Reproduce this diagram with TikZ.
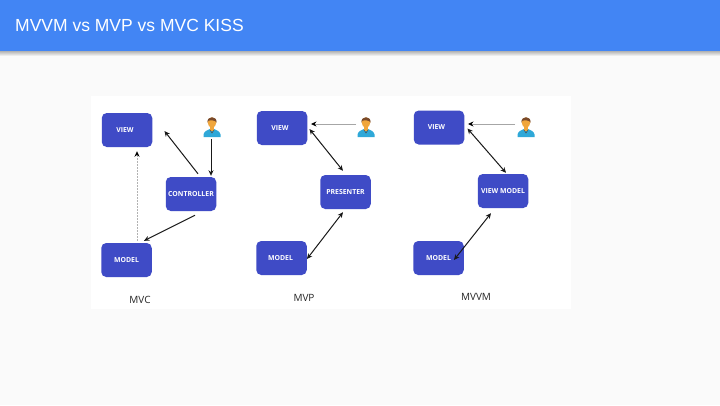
\documentclass[tikz,border=0pt]{standalone}
\usepackage{fontspec}
\setmainfont{Liberation Sans}
\newfontfamily\labelfont{Open Sans}
\definecolor{hdr}{HTML}{4285F4}
\definecolor{page}{HTML}{FAFAFA}
\definecolor{boxc}{HTML}{3F4BC6}
\definecolor{skin}{HTML}{F0A63C}
\definecolor{hair}{HTML}{7A4A2A}
\definecolor{shirt}{HTML}{2FA8D8}
\usetikzlibrary{arrows.meta}
\tikzset{
  comp/.style={fill=boxc,draw=none,rounded corners=5pt,minimum width=50.5pt,minimum height=34pt,inner sep=0pt,
    text=white,font=\labelfont\fontsize{6.9}{7}\selectfont\bfseries},
  captext/.style={font=\labelfont\fontsize{10}{11}\selectfont,text=black!85,inner sep=0pt},
  link/.style={black!90,line width=1pt},
  one/.style={link,-{Stealth[length=5.5pt,width=5pt]}},
  both/.style={link,{Stealth[length=5.5pt,width=5pt]}-{Stealth[length=5.5pt,width=5pt]}},
  grayarrow/.style={black!35,line width=1pt,-{Stealth[length=5.5pt,width=5pt,black]}},
  dasharrow/.style={black!30,line width=1pt,dash pattern=on 2pt off 1pt,-{Stealth[length=5.5pt,width=5pt,black]}},
  pics/usericon/.style={code={
    \fill[shirt] (-8.5,10) -- (-8.5,7.5) .. controls (-8,4) and (-4,3) .. (-2,2) -- (2,2)
       .. controls (4,3) and (8,4) .. (8.5,7.5) -- (8.5,10) -- cycle;
    \fill[skin] (-2,-1) rectangle (2,3.5);
    \fill[skin] (0,-4.5) ellipse (4.3 and 5.2);
    \fill[hair] (-4.6,-4.5) .. controls (-5.2,-11.5) and (5.2,-11.5) .. (4.6,-4.5)
       .. controls (3.4,-7) and (-2,-7) .. (-3.6,-6.2) -- cycle;
    \draw[black!70,line width=0.5pt] (-2,3) -- (0,6) -- (2,3);
  }}
}
\begin{document}
\begin{tikzpicture}[x=1pt,y=-1pt]
\useasboundingbox (0,0) rectangle (720,405);
\fill[page] (0,0) rectangle (720,405);
\shade[top color=black!30,bottom color=page] (0,51) rectangle (720,56);
\fill[hdr] (0,0) rectangle (720,51);
\node[anchor=west,inner sep=0pt,text=white,font=\fontsize{17.5}{20}\selectfont] (title) at (15,25) {MVVM vs MVP vs MVC KISS};
\fill[white] (91,96) rectangle (571,309);

% MVC
\node[comp] (v1) at (127,130) {\hspace*{-4pt}VIEW};
\node[comp] (c1) at (191,194) {CONTROLLER};
\node[comp] (m1) at (126.5,260) {MODEL};
\pic at (212,127) {usericon};
\coordinate (u1) at (211,139);
\draw[one] (u1) -- ([shift={(20,-1)}]c1.north);
\draw[one] ([shift={(7,-3)}]c1.north) -- ([shift={(12,1)}]v1.east);
\draw[one] ([shift={(4,4)}]c1.south) -- ([shift={(-8,-2)}]m1.north east);
\draw[dasharrow] ([shift={(10.5,-2)}]m1.north) -- ([shift={(10,4)}]v1.south);
\node[captext] (l1) at (140,299.5) {MVC};

% MVP
\node[comp] (v2) at (282,128) {\hspace*{-4pt}VIEW};
\node[comp] (p2) at (345.5,192) {PRESENTER};
\node[comp] (m2) at (281.5,258) {\hspace*{-2pt}MODEL};
\pic at (366,127) {usericon};
\coordinate (u2) at (356,124);
\draw[grayarrow] (u2) -- ([shift={(3.5,-4)}]v2.east);
\draw[both] ([shift={(2,1)}]v2.east) -- ([shift={(-2.5,-4)}]p2.north);
\draw[both] ([shift={(-2.5,3)}]p2.south) -- ([shift={(0,1)}]m2.east);
\node[captext] (l2) at (304,298) {MVP};

% MVVM
\node[comp] (v3) at (439,127.5) {\hspace*{-5pt}VIEW};
\node[comp] (p3) at (503,191) {VIEW MODEL};
\node[comp] (m3) at (438.5,258) {MODEL};
\pic at (526,127) {usericon};
\coordinate (u3) at (515,124);
\draw[grayarrow] (u3) -- ([shift={(3.5,-3.5)}]v3.east);
\draw[both] ([shift={(3,1)}]v3.east) -- ([shift={(3,-1)}]p3.north);
\draw[both] ([shift={(-12,5)}]p3.south) -- ([shift={(-10,2)}]m3.east);
\node[captext] (l3) at (476,297) {MVVM};
\end{tikzpicture}
\end{document}
